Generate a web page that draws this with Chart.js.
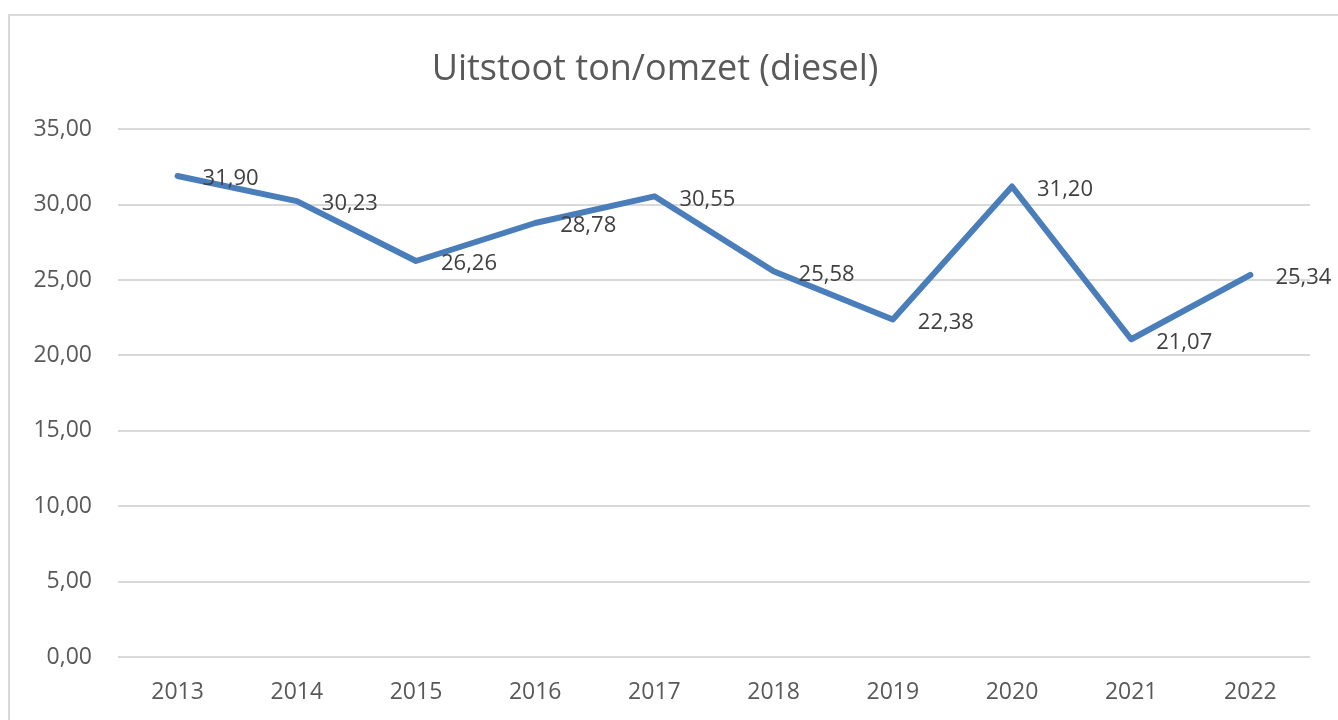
<!DOCTYPE html>
<html>
<head>
<meta charset="utf-8">
<script src="https://cdn.jsdelivr.net/npm/chart.js@4.4.1/dist/chart.umd.min.js"></script>
<style>
html,body{margin:0;padding:0;background:#fff;overflow:hidden;}
#frame{position:absolute;left:8px;top:14px;width:1400px;height:800px;border:2px solid #d9d9d9;box-sizing:border-box;}
#wrap{position:absolute;left:0;top:0;width:1338px;height:720px;}
</style>
</head>
<body>
<div id="frame"></div>
<div id="wrap"><canvas id="c" width="1338" height="720"></canvas></div>
<script>
const categories = ["2013","2014","2015","2016","2017","2018","2019","2020","2021","2022"];
const values = [31.90, 30.23, 26.26, 28.78, 30.55, 25.58, 22.38, 31.20, 21.07, 25.34];
const titleText = "Uitstoot ton/omzet (diesel)";
const yMin = 0, yMax = 35, yStep = 5;

const fmt = v => v.toFixed(2).replace('.', ',');
const FONT = "'Open Sans', 'Noto Sans', sans-serif";

const labelPlugin = {
  id: 'valueLabels',
  afterDatasetsDraw(chart) {
    const ctx = chart.ctx;
    const meta = chart.getDatasetMeta(0);
    ctx.save();
    ctx.font = "22px " + FONT;
    ctx.fillStyle = "#404040";
    ctx.textAlign = "left";
    ctx.textBaseline = "middle";
    meta.data.forEach((pt, i) => {
      ctx.fillText(fmt(chart.data.datasets[0].data[i]), pt.x + 25, pt.y + 3);
    });
    ctx.restore();
  }
};

new Chart(document.getElementById('c'), {
  type: 'line',
  data: {
    labels: categories,
    datasets: [{
      data: values,
      borderColor: '#4a7ebb',
      borderWidth: 6,
      pointRadius: 0,
      tension: 0,
      fill: false,
      borderCapStyle: 'round',
      borderJoinStyle: 'round'
    }]
  },
  options: {
    responsive: false,
    animation: false,
    layout: { padding: { top: 0, right: 28, bottom: 0, left: 0 } },
    plugins: {
      legend: { display: false },
      tooltip: { enabled: false },
      title: {
        display: true,
        text: titleText,
        color: '#595959',
        font: { family: FONT, size: 36, weight: 'normal' },
        padding: { top: 48, bottom: 38 }
      }
    },
    scales: {
      x: {
        offset: true,
        grid: { display: false, drawTicks: false },
        border: { display: false },
        ticks: { color: '#595959', font: { family: FONT, size: 23 }, padding: 22, maxRotation: 0 },
        afterFit(s) { s.height = 63; }
      },
      y: {
        min: yMin, max: yMax,
        grid: { color: '#d9d9d9', lineWidth: 2, drawTicks: false },
        border: { display: false },
        ticks: {
          stepSize: yStep,
          color: '#595959',
          font: { family: FONT, size: 23 },
          padding: 26,
          callback: v => fmt(v)
        },
        afterFit(s) { s.width = 118; }
      }
    }
  },
  plugins: [labelPlugin]
});
</script>
</body>
</html>
